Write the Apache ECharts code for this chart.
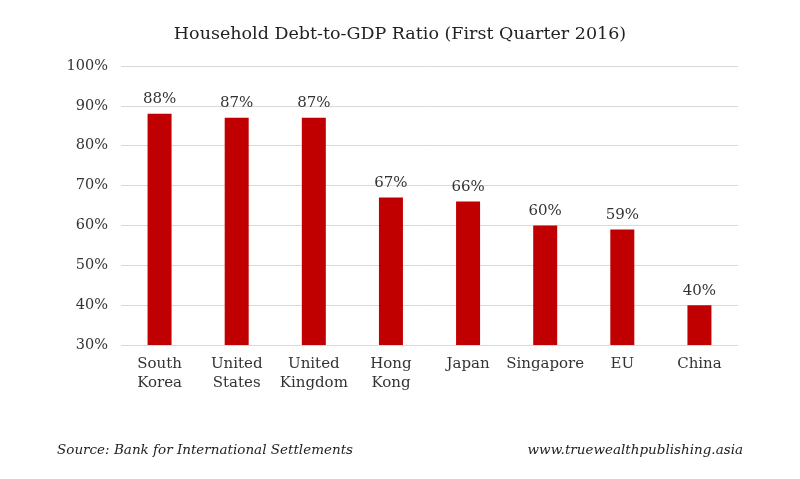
<!DOCTYPE html>
<html><head><meta charset="utf-8">
<script src="https://cdn.jsdelivr.net/npm/echarts@6/dist/echarts.min.js"></script>
<style>html,body{margin:0;padding:0;background:#fff}#c{width:800px;height:479px}</style>
</head><body><div id="c"></div>
<script>
var categories = ['South\nKorea','United\nStates','United\nKingdom','Hong\nKong','Japan','Singapore','EU','China'];
var values = [88, 87, 87, 67, 66, 60, 59, 40];
var titleText = 'Household Debt-to-GDP Ratio (First Quarter 2016)';
var sourceText = 'Source: Bank for International Settlements';
var siteText = 'www.truewealthpublishing.asia';
var serif = '"DejaVu Serif", serif';
var chart = echarts.init(document.getElementById('c'));
chart.setOption({
  animation: false,
  backgroundColor: '#fff',
  title: {text: titleText, left: 'center', top: 20,
    textStyle: {fontFamily: serif, fontWeight: 'normal', fontSize: 17.5, color: '#222'}},
  grid: {left: 121, right: 62, top: 66, bottom: 134},
  xAxis: {type: 'category', data: categories,
    axisLine: {show: false}, axisTick: {show: false},
    axisLabel: {interval: 0, fontFamily: serif, fontSize: 15, color: '#333', lineHeight: 19, margin: 10}},
  yAxis: {type: 'value', min: 30, max: 100, interval: 10,
    axisLine: {show: false}, axisTick: {show: false},
    axisLabel: {formatter: '{value}%', fontFamily: serif, fontSize: 14.5, color: '#333', margin: 13},
    splitLine: {lineStyle: {color: '#d9d9d9', width: 1}}},
  series: [{type: 'bar', data: values, barWidth: 24,
    itemStyle: {color: '#c00000'},
    label: {show: true, position: 'top', formatter: '{c}%', fontFamily: serif, fontSize: 15, color: '#333', distance: 7}}],
  graphic: [
    {type: 'text', left: 57, top: 443, style: {text: sourceText, font: 'italic 13.5px ' + serif, fill: '#222'}},
    {type: 'text', right: 57, top: 443, style: {text: siteText, font: 'italic 13.5px ' + serif, fill: '#222'}}
  ]
});
</script></body></html>
